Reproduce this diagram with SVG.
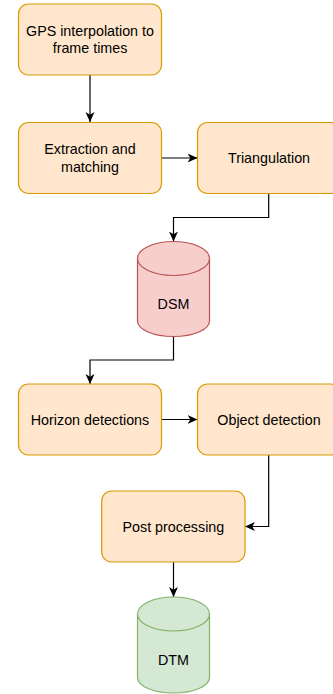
<svg xmlns="http://www.w3.org/2000/svg" width="333" height="694" viewBox="0 0 333 694">
<style>
.box{fill:#ffe6cc;stroke:#d79b00;stroke-width:1.2}
.dsm{fill:#f8cecc;stroke:#b85450;stroke-width:1.2}
.dtm{fill:#d5e8d4;stroke:#82b366;stroke-width:1.2}
text{font-family:"Liberation Sans",Arial,sans-serif;font-size:14.3px;fill:#000;text-anchor:middle}
.edge{fill:none;stroke:#000;stroke-width:1.2}
</style>
<defs>
<marker id="arr" markerUnits="userSpaceOnUse" markerWidth="10" markerHeight="10" viewBox="0 0 10 10" refX="10" refY="5" orient="auto">
<path d="M0,0.5 L10,5 L0,9.5 L2.8,5 Z" fill="#000"/>
</marker>
</defs>
<rect width="333" height="694" fill="#fff"/>
<g id="connectors">
<path class="edge" d="M90,75 L90,122" marker-end="url(#arr)"/>
<path class="edge" d="M162,158 L197.5,158" marker-end="url(#arr)"/>
<path class="edge" d="M268.7,194 L268.7,217.5 L173.5,217.5 L173.5,241.5" marker-end="url(#arr)"/>
<path class="edge" d="M173.5,337 L173.5,360 L90,360 L90,384" marker-end="url(#arr)"/>
<path class="edge" d="M162,419.5 L197.5,419.5" marker-end="url(#arr)"/>
<path class="edge" d="M268.7,455 L268.7,526.5 L245,526.5" marker-end="url(#arr)"/>
<path class="edge" d="M173.5,562 L173.5,597" marker-end="url(#arr)"/>
</g>
<g id="gps">
<rect class="box" x="18.5" y="4" width="143" height="71" rx="10"/>
<text x="90" y="35.9">GPS interpolation to</text>
<text x="90" y="53.1">frame times</text>
</g>
<g id="extraction">
<rect class="box" x="18.5" y="122.5" width="143" height="71" rx="10"/>
<text x="90" y="154.4">Extraction and</text>
<text x="90" y="171.6">matching</text>
</g>
<g id="triangulation">
<rect class="box" x="197.5" y="122.5" width="143" height="71" rx="10"/>
<text x="269" y="163">Triangulation</text>
</g>
<g id="dsm">
<path class="dsm" d="M137.5,258.5 A36,17 0 0 1 209.5,258.5 L209.5,321 A36,15.5 0 0 1 137.5,321 Z"/>
<path class="dsm" d="M137.5,258.5 A36,17 0 0 0 209.5,258.5" fill="none"/>
<text x="173.5" y="309">DSM</text>
</g>
<g id="horizon">
<rect class="box" x="18.5" y="384" width="143" height="71" rx="10"/>
<text x="90" y="424.5">Horizon detections</text>
</g>
<g id="object">
<rect class="box" x="197.5" y="384" width="143" height="71" rx="10"/>
<text x="269" y="424.5">Object detection</text>
</g>
<g id="post">
<rect class="box" x="101.7" y="491" width="143.3" height="71" rx="10"/>
<text x="173.4" y="531.5">Post processing</text>
</g>
<g id="dtm">
<path class="dtm" d="M137.5,614 A36,17 0 0 1 209.5,614 L209.5,677.5 A36,15.5 0 0 1 137.5,677.5 Z"/>
<path class="dtm" d="M137.5,614 A36,17 0 0 0 209.5,614" fill="none"/>
<text x="173.5" y="665">DTM</text>
</g>
</svg>
